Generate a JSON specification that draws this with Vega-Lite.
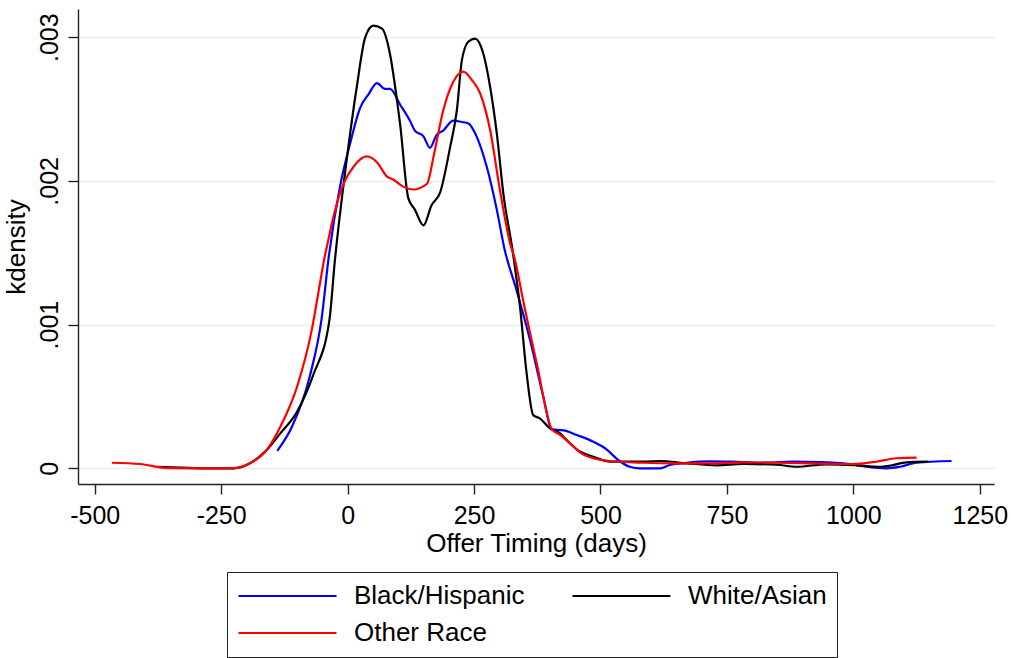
{
  "$schema": "https://vega.github.io/schema/vega-lite/v6.json",
  "width": 916,
  "height": 475,
  "autosize": "none",
  "padding": {"left": 78, "top": 9, "right": 17, "bottom": 174},
  "background": "white",
  "config": {
    "view": {"stroke": null},
    "font": "Liberation Sans",
    "axis": {
      "domainColor": "#222222",
      "domainWidth": 1.4,
      "tickColor": "#222222",
      "tickWidth": 1.4,
      "tickSize": 10,
      "labelFont": "Liberation Sans",
      "labelFontSize": 25,
      "labelColor": "black",
      "titleFont": "Liberation Sans",
      "titleFontSize": 26,
      "titleFontWeight": "normal",
      "titleColor": "black"
    },
    "legend": {
      "labelFont": "Liberation Sans"
    }
  },
  "data": {
    "values": [
      {"race": "Black/Hispanic", "t": -139, "kd": 0.000122},
      {"race": "Black/Hispanic", "t": -110, "kd": 0.000289},
      {"race": "Black/Hispanic", "t": -75, "kd": 0.000637},
      {"race": "Black/Hispanic", "t": -51, "kd": 0.00105},
      {"race": "Black/Hispanic", "t": -38, "kd": 0.00145},
      {"race": "Black/Hispanic", "t": -15, "kd": 0.00196},
      {"race": "Black/Hispanic", "t": 5, "kd": 0.00226},
      {"race": "Black/Hispanic", "t": 25, "kd": 0.00251},
      {"race": "Black/Hispanic", "t": 41, "kd": 0.0026},
      {"race": "Black/Hispanic", "t": 58, "kd": 0.00268},
      {"race": "Black/Hispanic", "t": 74, "kd": 0.00264},
      {"race": "Black/Hispanic", "t": 84, "kd": 0.00264},
      {"race": "Black/Hispanic", "t": 104, "kd": 0.00253},
      {"race": "Black/Hispanic", "t": 123, "kd": 0.00242},
      {"race": "Black/Hispanic", "t": 133, "kd": 0.00235},
      {"race": "Black/Hispanic", "t": 150, "kd": 0.00231},
      {"race": "Black/Hispanic", "t": 163, "kd": 0.00223},
      {"race": "Black/Hispanic", "t": 176, "kd": 0.00232},
      {"race": "Black/Hispanic", "t": 189, "kd": 0.00235},
      {"race": "Black/Hispanic", "t": 209, "kd": 0.00242},
      {"race": "Black/Hispanic", "t": 226, "kd": 0.00241},
      {"race": "Black/Hispanic", "t": 239, "kd": 0.0024},
      {"race": "Black/Hispanic", "t": 255, "kd": 0.00231},
      {"race": "Black/Hispanic", "t": 275, "kd": 0.0021},
      {"race": "Black/Hispanic", "t": 295, "kd": 0.0018},
      {"race": "Black/Hispanic", "t": 310, "kd": 0.00153},
      {"race": "Black/Hispanic", "t": 334, "kd": 0.00124},
      {"race": "Black/Hispanic", "t": 361, "kd": 0.00089},
      {"race": "Black/Hispanic", "t": 387, "kd": 0.000498},
      {"race": "Black/Hispanic", "t": 404, "kd": 0.000271},
      {"race": "Black/Hispanic", "t": 420, "kd": 0.000266},
      {"race": "Black/Hispanic", "t": 427, "kd": 0.000264},
      {"race": "Black/Hispanic", "t": 453, "kd": 0.000232},
      {"race": "Black/Hispanic", "t": 486, "kd": 0.000185},
      {"race": "Black/Hispanic", "t": 512, "kd": 0.000132},
      {"race": "Black/Hispanic", "t": 535, "kd": 0.000058},
      {"race": "Black/Hispanic", "t": 558, "kd": 0.000011},
      {"race": "Black/Hispanic", "t": 578, "kd": 0.0},
      {"race": "Black/Hispanic", "t": 618, "kd": 0.0},
      {"race": "Black/Hispanic", "t": 637, "kd": 0.000023},
      {"race": "Black/Hispanic", "t": 670, "kd": 0.000039},
      {"race": "Black/Hispanic", "t": 716, "kd": 0.000049},
      {"race": "Black/Hispanic", "t": 762, "kd": 0.000046},
      {"race": "Black/Hispanic", "t": 815, "kd": 0.000039},
      {"race": "Black/Hispanic", "t": 881, "kd": 0.000046},
      {"race": "Black/Hispanic", "t": 934, "kd": 0.000044},
      {"race": "Black/Hispanic", "t": 993, "kd": 0.00003},
      {"race": "Black/Hispanic", "t": 1026, "kd": 0.000011},
      {"race": "Black/Hispanic", "t": 1066, "kd": 0.0},
      {"race": "Black/Hispanic", "t": 1092, "kd": 0.000011},
      {"race": "Black/Hispanic", "t": 1125, "kd": 0.000039},
      {"race": "Black/Hispanic", "t": 1194, "kd": 0.000051},

      {"race": "White/Asian", "t": -377, "kd": 0.00001},
      {"race": "White/Asian", "t": -330, "kd": 0.000005},
      {"race": "White/Asian", "t": -280, "kd": 0.0},
      {"race": "White/Asian", "t": -226, "kd": 0.0},
      {"race": "White/Asian", "t": -193, "kd": 0.000035},
      {"race": "White/Asian", "t": -160, "kd": 0.000127},
      {"race": "White/Asian", "t": -133, "kd": 0.000243},
      {"race": "White/Asian", "t": -100, "kd": 0.000394},
      {"race": "White/Asian", "t": -68, "kd": 0.000649},
      {"race": "White/Asian", "t": -36, "kd": 0.00103},
      {"race": "White/Asian", "t": -25, "kd": 0.00145},
      {"race": "White/Asian", "t": -2, "kd": 0.00214},
      {"race": "White/Asian", "t": 18, "kd": 0.00265},
      {"race": "White/Asian", "t": 35, "kd": 0.003},
      {"race": "White/Asian", "t": 51, "kd": 0.00308},
      {"race": "White/Asian", "t": 68, "kd": 0.00306},
      {"race": "White/Asian", "t": 84, "kd": 0.00288},
      {"race": "White/Asian", "t": 97, "kd": 0.00258},
      {"race": "White/Asian", "t": 104, "kd": 0.00239},
      {"race": "White/Asian", "t": 120, "kd": 0.00188},
      {"race": "White/Asian", "t": 133, "kd": 0.0018},
      {"race": "White/Asian", "t": 150, "kd": 0.00169},
      {"race": "White/Asian", "t": 166, "kd": 0.00183},
      {"race": "White/Asian", "t": 183, "kd": 0.00192},
      {"race": "White/Asian", "t": 203, "kd": 0.00224},
      {"race": "White/Asian", "t": 216, "kd": 0.00249},
      {"race": "White/Asian", "t": 226, "kd": 0.00284},
      {"race": "White/Asian", "t": 239, "kd": 0.00297},
      {"race": "White/Asian", "t": 252, "kd": 0.00299},
      {"race": "White/Asian", "t": 268, "kd": 0.00289},
      {"race": "White/Asian", "t": 282, "kd": 0.00265},
      {"race": "White/Asian", "t": 295, "kd": 0.00233},
      {"race": "White/Asian", "t": 308, "kd": 0.00191},
      {"race": "White/Asian", "t": 326, "kd": 0.00152},
      {"race": "White/Asian", "t": 341, "kd": 0.00112},
      {"race": "White/Asian", "t": 354, "kd": 0.00066},
      {"race": "White/Asian", "t": 367, "kd": 0.00037},
      {"race": "White/Asian", "t": 380, "kd": 0.000348},
      {"race": "White/Asian", "t": 400, "kd": 0.000278},
      {"race": "White/Asian", "t": 420, "kd": 0.000243},
      {"race": "White/Asian", "t": 433, "kd": 0.000197},
      {"race": "White/Asian", "t": 460, "kd": 0.000115},
      {"race": "White/Asian", "t": 486, "kd": 0.000081},
      {"race": "White/Asian", "t": 519, "kd": 0.000046},
      {"race": "White/Asian", "t": 585, "kd": 0.000046},
      {"race": "White/Asian", "t": 618, "kd": 0.000051},
      {"race": "White/Asian", "t": 670, "kd": 0.000035},
      {"race": "White/Asian", "t": 730, "kd": 0.000021},
      {"race": "White/Asian", "t": 782, "kd": 0.00003},
      {"race": "White/Asian", "t": 848, "kd": 0.000025},
      {"race": "White/Asian", "t": 888, "kd": 0.000011},
      {"race": "White/Asian", "t": 947, "kd": 0.000028},
      {"race": "White/Asian", "t": 1000, "kd": 0.000023},
      {"race": "White/Asian", "t": 1052, "kd": 0.000011},
      {"race": "White/Asian", "t": 1072, "kd": 0.000018},
      {"race": "White/Asian", "t": 1105, "kd": 0.000042},
      {"race": "White/Asian", "t": 1148, "kd": 0.000046},

      {"race": "Other Race", "t": -466, "kd": 0.000039},
      {"race": "Other Race", "t": -410, "kd": 0.00003},
      {"race": "Other Race", "t": -357, "kd": 0.000002},
      {"race": "Other Race", "t": -292, "kd": 0.0},
      {"race": "Other Race", "t": -226, "kd": 0.0},
      {"race": "Other Race", "t": -193, "kd": 0.000035},
      {"race": "Other Race", "t": -160, "kd": 0.000127},
      {"race": "Other Race", "t": -133, "kd": 0.000289},
      {"race": "Other Race", "t": -100, "kd": 0.000567},
      {"race": "Other Race", "t": -71, "kd": 0.00096},
      {"race": "Other Race", "t": -54, "kd": 0.0013},
      {"race": "Other Race", "t": -46, "kd": 0.00146},
      {"race": "Other Race", "t": -38, "kd": 0.00159},
      {"race": "Other Race", "t": -28, "kd": 0.00175},
      {"race": "Other Race", "t": -8, "kd": 0.00198},
      {"race": "Other Race", "t": 12, "kd": 0.0021},
      {"race": "Other Race", "t": 38, "kd": 0.00217},
      {"race": "Other Race", "t": 58, "kd": 0.00213},
      {"race": "Other Race", "t": 78, "kd": 0.00203},
      {"race": "Other Race", "t": 90, "kd": 0.00201},
      {"race": "Other Race", "t": 110, "kd": 0.00196},
      {"race": "Other Race", "t": 130, "kd": 0.00194},
      {"race": "Other Race", "t": 157, "kd": 0.00198},
      {"race": "Other Race", "t": 170, "kd": 0.00217},
      {"race": "Other Race", "t": 189, "kd": 0.00249},
      {"race": "Other Race", "t": 209, "kd": 0.00269},
      {"race": "Other Race", "t": 229, "kd": 0.00276},
      {"race": "Other Race", "t": 246, "kd": 0.0027},
      {"race": "Other Race", "t": 262, "kd": 0.00261},
      {"race": "Other Race", "t": 282, "kd": 0.00235},
      {"race": "Other Race", "t": 301, "kd": 0.00194},
      {"race": "Other Race", "t": 321, "kd": 0.00157},
      {"race": "Other Race", "t": 331, "kd": 0.00145},
      {"race": "Other Race", "t": 347, "kd": 0.00117},
      {"race": "Other Race", "t": 374, "kd": 0.00073},
      {"race": "Other Race", "t": 404, "kd": 0.000271},
      {"race": "Other Race", "t": 420, "kd": 0.000232},
      {"race": "Other Race", "t": 440, "kd": 0.000174},
      {"race": "Other Race", "t": 460, "kd": 0.00011},
      {"race": "Other Race", "t": 486, "kd": 0.00007},
      {"race": "Other Race", "t": 519, "kd": 0.000051},
      {"race": "Other Race", "t": 585, "kd": 0.000039},
      {"race": "Other Race", "t": 651, "kd": 0.000035},
      {"race": "Other Race", "t": 716, "kd": 0.000035},
      {"race": "Other Race", "t": 782, "kd": 0.000042},
      {"race": "Other Race", "t": 848, "kd": 0.000039},
      {"race": "Other Race", "t": 914, "kd": 0.000035},
      {"race": "Other Race", "t": 1000, "kd": 0.00003},
      {"race": "Other Race", "t": 1045, "kd": 0.000046},
      {"race": "Other Race", "t": 1085, "kd": 0.00007},
      {"race": "Other Race", "t": 1125, "kd": 0.000074}
    ]
  },
  "mark": {"type": "line", "strokeWidth": 2.2, "interpolate": "monotone"},
  "encoding": {
    "x": {
      "field": "t",
      "type": "quantitative",
      "scale": {"domain": [-533, 1278], "nice": false, "zero": false},
      "axis": {
        "title": "Offer Timing (days)",
        "values": [-500, -250, 0, 250, 500, 750, 1000, 1250],
        "labelExpr": "'' + datum.value",
        "grid": false,
        "labelPadding": 9,
        "titlePadding": 2,
        "labelFlush": false
      }
    },
    "y": {
      "field": "kd",
      "type": "quantitative",
      "scale": {"domain": [-0.000109, 0.003196], "nice": false, "zero": false},
      "axis": {
        "title": "kdensity",
        "values": [0, 0.001, 0.002, 0.003],
        "labelExpr": "datum.value == 0 ? '0' : '.00' + round(datum.value * 1000)",
        "labelAngle": -90,
        "labelAlign": "center",
        "labelBaseline": "alphabetic",
        "labelPadding": 11,
        "labelFlush": false,
        "grid": true,
        "gridColor": "#e6eef0",
        "gridWidth": 1.6,
        "titlePadding": 8
      }
    },
    "color": {
      "field": "race",
      "type": "nominal",
      "scale": {
        "domain": ["Black/Hispanic", "White/Asian", "Other Race"],
        "range": ["#0000ff", "#000000", "#ff0000"]
      },
      "legend": {
        "title": null,
        "orient": "none",
        "direction": "horizontal",
        "legendX": 149,
        "legendY": 563,
        "columns": 2,
        "symbolType": "stroke",
        "symbolSize": 9604,
        "symbolStrokeWidth": 2.2,
        "labelFontSize": 26,
        "labelColor": "black",
        "labelLimit": 400,
        "labelOffset": 16,
        "columnPadding": 46,
        "rowPadding": 9,
        "clipHeight": 28,
        "padding": 10,
        "strokeColor": "#222222",
        "fillColor": "white",
        "gridAlign": "each"
      }
    }
  }
}
